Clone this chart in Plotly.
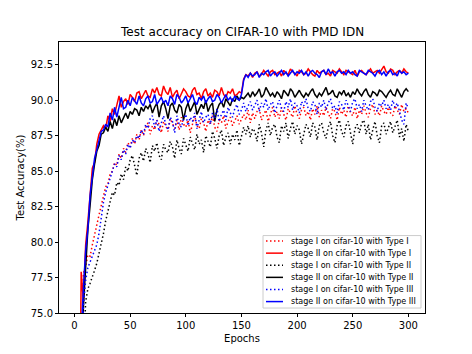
import plotly.graph_objects as go

epochs = list(range(2, 301, 2))

stage2_type1 = [
    45, 62, 77.9, 75.8, 79.8, 81.4, 83.6, 85.2, 85.6, 86.9,
    87.6, 87.9, 88.2, 88.0, 88.9, 88.5, 89.4, 89.0, 89.7, 90.3,
    89.5, 89.9, 90.1, 89.7, 90.4, 90.2, 89.9, 90.5, 90.6, 90.1,
    90.4, 90.7, 90.3, 90.2, 90.8, 90.5, 90.9, 90.4, 90.3, 91.0,
    90.6, 90.4, 90.9, 90.2, 90.5, 90.7, 90.1, 90.4, 90.8, 90.6,
    90.3, 90.2, 90.7, 90.9, 90.4, 90.5, 90.1, 90.6, 90.8, 90.3,
    90.5, 90.2, 90.7, 90.6, 90.3, 90.9, 90.4, 90.2, 90.6, 90.5,
    90.8, 90.3, 90.4, 90.6, 90.5, 91.5, 91.8, 91.7, 91.9, 91.6,
    91.9, 92.0, 91.7, 91.8, 92.1, 91.9, 91.7, 92.0, 92.1, 91.8,
    91.9, 92.0, 91.7, 92.1, 91.9, 91.8, 92.2, 92.0, 91.9, 91.7,
    92.1, 92.0, 91.8, 91.9, 92.2, 92.0, 91.8, 91.7, 92.1, 91.9,
    92.0, 92.1, 91.8, 91.9, 91.7, 92.1, 92.0, 91.9, 92.2, 92.0,
    91.8, 92.1, 92.0, 91.9, 91.8, 92.1, 91.7, 92.0, 92.1, 91.9,
    91.8, 92.0, 92.2, 91.9, 92.0, 92.1, 91.9, 92.2, 92.4, 92.0,
    91.9, 92.2, 92.1, 91.8, 92.0, 92.1, 91.9, 92.2, 92.0, 91.9,
]

stage2_type3 = [
    40, 58, 73.5, 76.8, 79.4, 80.9, 83.3, 84.6, 85.9, 86.5,
    87.1, 87.8, 87.9, 88.3, 88.1, 89.1, 88.6, 89.5, 88.8, 89.6,
    90.2, 89.4, 89.5, 90.0, 89.6, 90.2, 89.9, 89.7, 90.3, 89.8,
    89.6, 90.1, 90.3, 89.8, 89.9, 90.4, 89.7, 90.0, 90.2, 89.8,
    90.0, 89.6, 90.3, 90.1, 89.7, 90.4, 90.2, 89.8, 90.0, 90.3,
    89.8, 90.1, 90.4, 89.9, 89.7, 90.2, 90.0, 90.3, 89.8, 90.1,
    90.3, 89.9, 90.0, 90.4, 90.2, 89.8, 90.1, 90.4, 90.0, 90.2,
    89.9, 90.3, 90.1, 90.0, 90.4, 91.4, 91.8, 91.6, 91.9, 91.7,
    91.8, 92.0, 91.6, 91.9, 91.8, 92.0, 92.1, 91.7, 91.9, 92.0,
    91.7, 91.9, 92.1, 91.8, 92.0, 91.7, 91.9, 92.1, 91.8, 92.0,
    91.9, 92.1, 91.8, 92.0, 91.7, 92.0, 92.1, 91.9, 91.8, 91.6,
    92.0, 92.1, 91.8, 92.2, 91.9, 92.0, 91.7, 92.0, 92.1, 91.9,
    92.0, 91.8, 92.1, 91.9, 92.0, 91.8, 91.7, 92.1, 92.0, 91.9,
    91.8, 92.1, 92.0, 91.9, 91.7, 92.0, 92.1, 91.8, 92.0, 91.7,
    92.0, 92.1, 91.8, 91.9, 91.7, 92.1, 91.9, 92.0, 91.8, 91.9,
]

stage2_type2 = [
    38, 55, 71, 75.5, 78.5, 80.9, 82.6, 84.4, 85.5, 86.4,
    86.8, 87.6, 87.7, 88.1, 87.8, 88.5, 88.0, 88.7, 88.2, 88.9,
    88.4, 88.8, 89.1, 88.7, 89.2, 89.0, 89.4, 89.3, 88.9, 89.5,
    89.2, 89.6, 89.4, 89.7, 89.1, 89.5, 89.8, 88.8, 89.6, 89.9,
    89.4, 88.7, 89.6, 89.8, 89.3, 89.1, 89.7, 89.5, 88.6, 89.4,
    89.8, 89.2, 89.6, 89.9, 89.0, 89.3, 89.7, 89.4, 90.0, 89.2,
    89.6, 89.8, 88.5, 89.3, 89.7, 89.9, 89.5, 90.1, 89.8, 89.6,
    90.1, 89.9, 90.3, 90.0, 90.2, 90.1, 90.3, 90.5, 90.2, 90.6,
    90.3, 90.5, 90.8, 90.2, 90.4, 90.9, 90.6, 90.3, 90.5, 90.2,
    90.6, 90.4, 90.1, 90.7, 90.5, 90.3, 90.8, 90.6, 90.2, 90.5,
    90.7, 90.4, 90.2, 90.5, 90.3, 90.6, 90.8, 90.4, 90.2, 90.5,
    90.3, 90.6, 90.9, 90.4, 90.5, 90.7, 90.3, 90.2, 90.6, 90.4,
    90.7, 90.3, 90.5, 90.2, 90.6, 90.4, 90.8, 90.5, 90.3, 90.6,
    90.8, 90.4, 90.2, 90.6, 90.5, 90.3, 90.7, 90.6, 90.4, 90.2,
    90.5, 90.7, 90.4, 90.3, 90.8, 90.5, 90.2, 90.6, 90.8, 90.6,
]

stage1_type1 = [
    35, 55, 70, 77.8, 78.3, 79.1, 79.0, 79.8, 80.6, 81.2,
    81.9, 82.6, 83.1, 83.9, 84.1, 84.8, 85.0, 85.6, 85.4, 86.2,
    85.9, 86.6, 86.3, 87.0, 86.7, 87.3, 86.9, 87.6, 87.2, 87.9,
    87.5, 88.1, 88.4, 87.6, 88.2, 87.9, 88.6, 88.3, 87.7, 88.5,
    88.2, 87.8, 88.7, 88.4, 88.0, 88.6, 87.9, 88.8, 88.3, 88.1,
    88.6, 87.7, 88.4, 88.9, 88.2, 88.0, 88.7, 88.4, 87.8, 88.6,
    88.3, 88.9, 88.1, 87.8, 88.6, 88.4, 88.9, 88.0, 88.5, 88.8,
    88.2, 88.6, 88.9, 88.3, 88.7, 89.0, 88.6, 89.3, 88.4, 89.1,
    88.7, 89.2, 89.4, 88.6, 89.0, 89.3, 88.5, 89.1, 89.5, 88.8,
    89.2, 88.7, 89.5, 89.0, 88.6, 89.4, 89.1, 88.8, 89.6, 89.0,
    88.7, 89.3, 89.5, 88.9, 89.2, 88.6, 89.4, 89.0, 89.6, 88.8,
    89.3, 88.9, 89.5, 89.1, 88.7, 89.4, 89.2, 88.6, 89.5, 89.0,
    89.3, 88.8, 89.6, 89.1, 88.9, 89.5, 88.7, 89.3, 89.0, 89.6,
    89.1, 88.8, 89.4, 89.7, 89.0, 89.3, 88.9, 89.6, 89.2, 89.0,
    89.5, 89.1, 88.9, 89.6, 89.3, 89.0, 89.7, 89.2, 89.4, 89.1,
]

stage1_type3 = [
    33, 52, 68, 75.5, 77.3, 78.2, 78.6, 79.0, 79.3, 79.8,
    80.6, 81.9, 82.8, 83.5, 84.0, 84.6, 85.0, 85.5, 85.3, 86.1,
    85.8, 86.5, 86.2, 86.9, 86.6, 87.2, 87.0, 87.5, 87.3, 87.9,
    87.6, 88.3, 88.0, 88.7, 88.9, 88.1, 88.6, 87.8, 88.4, 88.9,
    88.3, 87.9, 88.8, 88.5, 87.7, 88.9, 88.3, 88.1, 88.7, 89.0,
    88.2, 88.8, 88.5, 89.1, 88.0, 88.6, 89.2, 88.4, 88.8, 89.0,
    88.3, 89.1, 88.7, 89.4, 88.5, 89.0, 89.3, 88.6, 89.5, 89.1,
    88.8, 89.4, 89.7, 89.0, 89.3, 89.8, 89.2, 89.6, 89.9, 89.3,
    89.7, 90.0, 89.2, 89.8, 89.5, 90.1, 89.3, 89.7, 89.9, 89.1,
    89.6, 90.0, 89.4, 89.2, 89.9, 89.5, 90.1, 89.3, 89.8, 89.6,
    89.1, 89.9, 89.6, 90.1, 89.4, 89.2, 89.9, 89.7, 89.0, 89.8,
    89.5, 90.0, 89.3, 89.8, 90.1, 89.4, 89.6, 89.1, 89.9, 89.7,
    89.3, 90.0, 89.6, 89.2, 89.9, 90.1, 89.4, 89.7, 89.2, 90.0,
    89.6, 89.3, 89.9, 90.1, 89.5, 89.2, 89.8, 89.6, 90.0, 89.4,
    89.7, 89.3, 90.0, 89.5, 89.8, 89.2, 88.6, 88.3, 89.8, 89.4,
]

stage1_type2 = [
    30, 48, 63, 72, 75.8, 76.7, 77.1, 77.5, 78.0, 78.5,
    79.2, 79.8, 80.6, 81.5, 82.2, 82.8, 83.5, 83.3, 84.2, 84.0,
    84.8, 84.4, 85.3, 85.0, 85.8, 86.1, 85.5, 84.7, 85.9, 86.3,
    85.7, 86.6, 86.2, 85.6, 86.8, 86.4, 87.0, 86.1, 85.8, 86.9,
    86.5, 86.3, 87.1, 86.7, 85.9, 87.2, 86.6, 86.2, 87.3, 86.8,
    86.4, 87.4, 87.0, 86.5, 87.6, 86.9, 87.2, 86.3, 87.5, 87.1,
    86.7, 87.8, 87.3, 86.6, 87.5, 87.9, 86.8, 87.4, 87.7, 86.9,
    87.6, 87.2, 87.9, 86.8, 87.5, 88.1, 87.6, 88.2, 87.4, 88.0,
    87.8, 87.1, 88.3, 87.7, 86.7, 87.9, 88.4, 87.5, 88.1, 88.3,
    87.4, 87.0, 88.2, 87.8, 88.4, 87.3, 88.0, 88.5, 87.6, 88.2,
    87.9, 86.9, 87.6, 88.3, 88.0, 87.4, 88.4, 88.1, 87.2, 88.2,
    88.4, 87.7, 87.3, 88.1, 88.5, 87.5, 87.0, 88.2, 88.6, 87.8,
    87.4, 88.2, 88.5, 87.6, 86.9, 88.0, 88.3, 87.7, 88.4, 88.6,
    87.6, 88.3, 87.2, 87.9, 88.5, 87.5, 87.0, 88.2, 88.4, 87.6,
    88.1, 88.5, 87.7, 88.2, 88.6, 87.4, 88.0, 87.1, 88.3, 87.8,
]

series_names = [
    "stage I on cifar-10 with Type I",
    "stage II on cifar-10 with Type I",
    "stage I on cifar-10 with Type II",
    "stage II on cifar-10 with Type II",
    "stage I on cifar-10 with Type III",
    "stage II on cifar-10 with Type III",
]
series_values = [stage1_type1, stage2_type1, stage1_type2, stage2_type2, stage1_type3, stage2_type3]
series_colors = ["#ff0000", "#ff0000", "#000000", "#000000", "#0000ff", "#0000ff"]
series_dash = ["1.5px,2.5px", "solid", "1.5px,2.5px", "solid", "1.5px,2.5px", "solid"]

y_ticks = [75.0, 77.5, 80.0, 82.5, 85.0, 87.5, 90.0, 92.5]
x_ticks = [0, 50, 100, 150, 200, 250, 300]

# plot-area pixel geometry (for the hand-drawn legend box)
PL, PR, PT, PB = 59, 425, 42, 315


def fx(p):
    return (p - PL) / (PR - PL)


def fy(p):
    return (PB - p) / (PB - PT)


fig = go.Figure()
for name, vals, col, dash in zip(series_names, series_values, series_colors, series_dash):
    fig.add_trace(go.Scatter(
        x=epochs, y=vals, mode="lines", name=name, showlegend=False,
        line=dict(color=col, width=1.5, dash=dash),
    ))

# legend drawn like matplotlib's compact legend
shapes = [dict(type="rect", xref="paper", yref="paper",
               x0=fx(263), x1=fx(421), y0=fy(310), y1=fy(237),
               line=dict(color="#cccccc", width=1), fillcolor="rgba(255,255,255,0.85)",
               layer="above")]
annotations = []
row_y = [242.5, 254.7, 266.9, 279.1, 291.3, 303.5]
for ry, name, col, dash in zip(row_y, series_names, series_colors, series_dash):
    shapes.append(dict(type="line", xref="paper", yref="paper",
                       x0=fx(266), x1=fx(283), y0=fy(ry), y1=fy(ry),
                       line=dict(color=col, width=1.5, dash=dash), layer="above"))
    annotations.append(dict(text=name, xref="paper", yref="paper", x=fx(289), y=fy(ry),
                            xanchor="left", yanchor="middle", showarrow=False,
                            font=dict(size=8, color="#000000")))

axis_common = dict(
    showline=True, linecolor="#000000", linewidth=1, mirror=True,
    showgrid=False, zeroline=False, ticks="outside", ticklen=3,
    tickcolor="#000000", tickfont=dict(size=10, color="#000000"),
)

fig.update_layout(
    width=472, height=354,
    margin=dict(l=PL, r=472 - PR, t=PT, b=354 - PB),
    paper_bgcolor="white", plot_bgcolor="white",
    font=dict(family="DejaVu Sans", color="#000000"),
    title=dict(text="Test accuracy on CIFAR-10 with PMD IDN", x=0.514, xanchor="center",
               y=0.909, yanchor="middle", font=dict(size=12)),
    xaxis=dict(range=[-13.95, 314.95], tickvals=x_ticks,
               title=dict(text="Epochs", font=dict(size=10), standoff=4), **axis_common),
    yaxis=dict(range=[75, 94.1], tickvals=y_ticks, tickformat=".1f",
               title=dict(text="Test Accuracy(%)", font=dict(size=10), standoff=4), **axis_common),
    shapes=shapes,
    annotations=annotations,
    showlegend=False,
)

fig.write_html("out.html")
